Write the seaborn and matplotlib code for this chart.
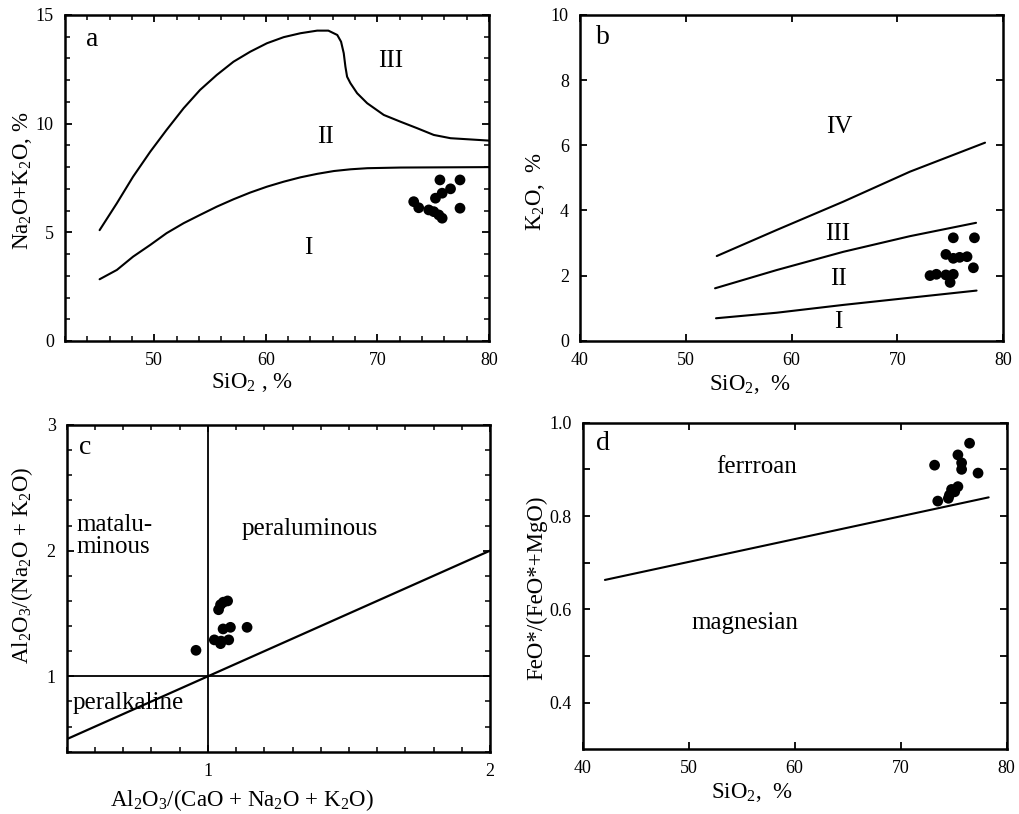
import numpy as np
import pandas as pd
import matplotlib
matplotlib.use('Agg')
import matplotlib.pyplot as plt
from matplotlib.ticker import MultipleLocator, FixedLocator, FormatStrFormatter
import seaborn as sns

# ---------------- data ----------------
# Panel a: total alkali vs SiO2
a_upper_x = [45.1, 46.65, 48.1, 49.64, 51.1, 52.63, 54.1, 55.6, 57.1, 58.6, 60.1, 61.6, 63.1, 64.6,
             65.6, 66.4, 66.74, 66.98, 67.13, 67.28, 67.58, 68.18, 69.08, 70.57, 72.06, 73.56,
             75.05, 76.55, 80.0]
a_upper_y = [5.1, 6.34, 7.56, 8.71, 9.71, 10.71, 11.55, 12.24, 12.85, 13.31, 13.70, 13.98, 14.16, 14.28,
             14.28, 14.08, 13.77, 13.24, 12.62, 12.16, 11.86, 11.40, 10.94, 10.40, 10.09, 9.79,
             9.48, 9.33, 9.22]
a_lower_x = [45.1, 46.65, 48.1, 49.64, 51.1, 52.63, 54.1, 55.6, 57.1, 58.6, 60.1, 61.6, 63.1, 64.6,
             66.1, 67.6, 69.1, 72.06, 80.0]
a_lower_y = [2.84, 3.27, 3.88, 4.42, 4.96, 5.42, 5.80, 6.18, 6.52, 6.83, 7.10, 7.33, 7.53, 7.69,
             7.82, 7.90, 7.95, 7.98, 8.0]
a_si = [75.6, 77.4, 75.2, 75.8, 76.55, 73.25, 73.7, 74.6, 75.05, 75.5, 75.8, 77.4]
a_alk = [7.41, 7.41, 6.57, 6.80, 7.00, 6.41, 6.13, 6.03, 5.95, 5.80, 5.65, 6.11]
a_fields = ['III', 'II', 'I']
a_field_x = [71.2, 65.3, 63.8]
a_field_y = [12.9, 9.4, 4.3]

# Panel b: K2O vs SiO2
b_l1_x = [52.86, 58.6, 64.9, 71.2, 77.5]
b_l1_y = [0.69, 0.86, 1.10, 1.32, 1.54]
b_l2_x = [52.77, 58.6, 64.9, 71.2, 77.45]
b_l2_y = [1.61, 2.17, 2.73, 3.21, 3.62]
b_l3_x = [52.93, 58.6, 64.9, 71.2, 78.3]
b_l3_y = [2.60, 3.40, 4.27, 5.19, 6.08]
b_si = [75.3, 77.3, 74.6, 75.3, 75.9, 76.6, 77.2, 73.1, 73.7, 74.6, 75.3, 75.0]
b_k2o = [3.16, 3.16, 2.65, 2.53, 2.56, 2.58, 2.24, 2.0, 2.04, 2.02, 2.04, 1.79]
b_fields = ['IV', 'III', 'II', 'I']
b_field_x = [64.5, 64.4, 64.4, 64.4]
b_field_y = [6.55, 3.28, 1.89, 0.58]

# Panel c: A/NK vs A/CNK
c_vert_x = [1.0, 1.0]
c_vert_y = [0.4, 3.0]
c_hor_x = [0.5, 2.0]
c_hor_y = [1.0, 1.0]
c_diag_x = [0.5, 2.0]
c_diag_y = [0.5, 2.0]
c_acnk = [0.958, 1.038, 1.045, 1.055, 1.070, 1.054, 1.080, 1.139, 1.023, 1.047, 1.074, 1.045]
c_ank = [1.207, 1.53, 1.57, 1.59, 1.60, 1.377, 1.39, 1.39, 1.29, 1.28, 1.29, 1.26]

# Panel d: FeO*/(FeO*+MgO) vs SiO2
d_line_x = [42.1, 78.3]
d_line_y = [0.663, 0.840]
d_si = [76.5, 73.2, 75.4, 75.75, 75.75, 77.3, 73.5, 74.6, 74.8, 75.4, 75.1, 74.5]
d_fe = [0.956, 0.909, 0.931, 0.914, 0.900, 0.892, 0.832, 0.845, 0.857, 0.863, 0.852, 0.838]

# ---------------- style ----------------
sns.set_style('ticks')
plt.rcParams['font.family'] = ['Liberation Serif', 'DejaVu Serif']
plt.rcParams['mathtext.fontset'] = 'custom'
plt.rcParams['mathtext.rm'] = 'Liberation Serif'
plt.rcParams['mathtext.it'] = 'Liberation Serif:italic'
plt.rcParams['axes.edgecolor'] = 'black'
plt.rcParams['axes.linewidth'] = 1.8
plt.rcParams['text.color'] = 'black'
plt.rcParams['axes.labelcolor'] = 'black'

TICK_FS = 13
LABEL_FS = 16.5
FIELD_FS = 18
LETTER_FS = 20
LW = 1.5
S = 60

fig = plt.figure(figsize=(10.19, 8.14), dpi=100)
axa = fig.add_axes([0.0638, 0.5811, 0.4161, 0.4005])
axb = fig.add_axes([0.5692, 0.5814, 0.4151, 0.4002])
axc = fig.add_axes([0.0655, 0.0765, 0.4154, 0.4014])
axd = fig.add_axes([0.5718, 0.0795, 0.4161, 0.4012])


def style(ax):
    ax.tick_params(which='both', direction='in', top=True, right=True,
                   colors='black', labelsize=TICK_FS)
    ax.tick_params(which='major', length=5, width=1.3, pad=8)
    ax.tick_params(which='minor', length=3.5, width=1.1)
    for sp in ax.spines.values():
        sp.set_linewidth(1.8)
        sp.set_color('black')


def line(ax, xs, ys, lw=LW):
    sns.lineplot(x=xs, y=ys, sort=False, estimator=None, color='black',
                 linewidth=lw, ax=ax, legend=False)


def dots(ax, xs, ys):
    sns.scatterplot(x=xs, y=ys, color='black', s=S, edgecolor='none',
                    ax=ax, legend=False, zorder=5)

# ---- panel a ----
line(axa, a_upper_x, a_upper_y)
line(axa, a_lower_x, a_lower_y)
dots(axa, a_si, a_alk)
for t, x, y in zip(a_fields, a_field_x, a_field_y):
    axa.text(x, y, t, fontsize=FIELD_FS, ha='center', va='center')
axa.text(0.05, 0.925, 'a', transform=axa.transAxes, fontsize=LETTER_FS, ha='left', va='center')
axa.set_xlim(42, 80)
axa.set_ylim(0, 15)
axa.xaxis.set_major_locator(FixedLocator([50, 60, 70, 80]))
axa.xaxis.set_minor_locator(MultipleLocator(2))
axa.yaxis.set_major_locator(MultipleLocator(5))
axa.yaxis.set_minor_locator(MultipleLocator(1))
style(axa)
axa.set_xlabel(r'SiO$\mathregular{_2}$ , %', fontsize=LABEL_FS)
axa.set_ylabel(r'Na$\mathregular{_2}$O+K$\mathregular{_2}$O, %', fontsize=LABEL_FS)
axa.xaxis.set_label_coords(0.44, -0.092)
axa.yaxis.set_label_coords(-0.072, 0.49)

# ---- panel b ----
line(axb, b_l1_x, b_l1_y)
line(axb, b_l2_x, b_l2_y)
line(axb, b_l3_x, b_l3_y)
dots(axb, b_si, b_k2o)
for t, x, y in zip(b_fields, b_field_x, b_field_y):
    axb.text(x, y, t, fontsize=FIELD_FS, ha='center', va='center')
axb.text(0.038, 0.93, 'b', transform=axb.transAxes, fontsize=LETTER_FS, ha='left', va='center')
axb.set_xlim(40, 80)
axb.set_ylim(0, 10)
axb.xaxis.set_major_locator(MultipleLocator(10))
axb.yaxis.set_major_locator(MultipleLocator(2))
style(axb)
axb.set_xlabel(r'SiO$\mathregular{_2}$,  %', fontsize=LABEL_FS)
axb.set_ylabel(r'K$\mathregular{_2}$O,  %', fontsize=LABEL_FS)
axb.xaxis.set_label_coords(0.402, -0.098)
axb.yaxis.set_label_coords(-0.078, 0.457)

# ---- panel c ----
line(axc, c_vert_x, c_vert_y, lw=1.3)
line(axc, c_hor_x, c_hor_y, lw=1.3)
line(axc, c_diag_x, c_diag_y, lw=1.6)
dots(axc, c_acnk, c_ank)
axc.text(0.535, 2.115, 'matalu-\nminous', fontsize=FIELD_FS, ha='left', va='center', linespacing=1.0)
axc.text(1.12, 2.17, 'peraluminous', fontsize=FIELD_FS, ha='left', va='center')
axc.text(0.52, 0.79, 'peralkaline', fontsize=FIELD_FS, ha='left', va='center')
axc.text(0.03, 0.932, 'c', transform=axc.transAxes, fontsize=LETTER_FS, ha='left', va='center')
axc.set_xlim(0.5, 2.0)
axc.set_ylim(0.4, 3.0)
axc.xaxis.set_major_locator(FixedLocator([1, 2]))
axc.xaxis.set_minor_locator(MultipleLocator(0.1))
axc.yaxis.set_major_locator(FixedLocator([1, 2, 3]))
axc.yaxis.set_minor_locator(MultipleLocator(0.2))
style(axc)
axc.set_xlabel(r'Al$\mathregular{_2}$O$\mathregular{_3}$/(CaO + Na$\mathregular{_2}$O + K$\mathregular{_2}$O)',
               fontsize=LABEL_FS)
axc.set_ylabel(r'Al$\mathregular{_2}$O$\mathregular{_3}$/(Na$\mathregular{_2}$O + K$\mathregular{_2}$O)',
               fontsize=LABEL_FS)
axc.xaxis.set_label_coords(0.415, -0.108)
axc.yaxis.set_label_coords(-0.075, 0.572)

# ---- panel d ----
line(axd, d_line_x, d_line_y)
dots(axd, d_si, d_fe)
axd.text(56.4, 0.906, 'ferrroan', fontsize=FIELD_FS, ha='center', va='center')
axd.text(55.3, 0.570, 'magnesian', fontsize=FIELD_FS, ha='center', va='center')
axd.text(0.031, 0.937, 'd', transform=axd.transAxes, fontsize=LETTER_FS, ha='left', va='center')
axd.set_xlim(40, 80)
axd.set_ylim(0.3, 1.0)
axd.xaxis.set_major_locator(MultipleLocator(10))
axd.yaxis.set_major_locator(FixedLocator([0.4, 0.6, 0.8, 1.0]))
axd.yaxis.set_minor_locator(FixedLocator([0.5, 0.7, 0.9]))
axd.yaxis.set_major_formatter(FormatStrFormatter('%.1f'))
style(axd)
axd.tick_params(which='minor', length=5, width=1.3)
axd.set_xlabel(r'SiO$\mathregular{_2}$,  %', fontsize=LABEL_FS)
axd.set_ylabel('FeO*/(FeO*+MgO)', fontsize=LABEL_FS)
axd.xaxis.set_label_coords(0.40, -0.097)
axd.yaxis.set_label_coords(-0.084, 0.496)

fig.savefig('out.png', dpi=100)
